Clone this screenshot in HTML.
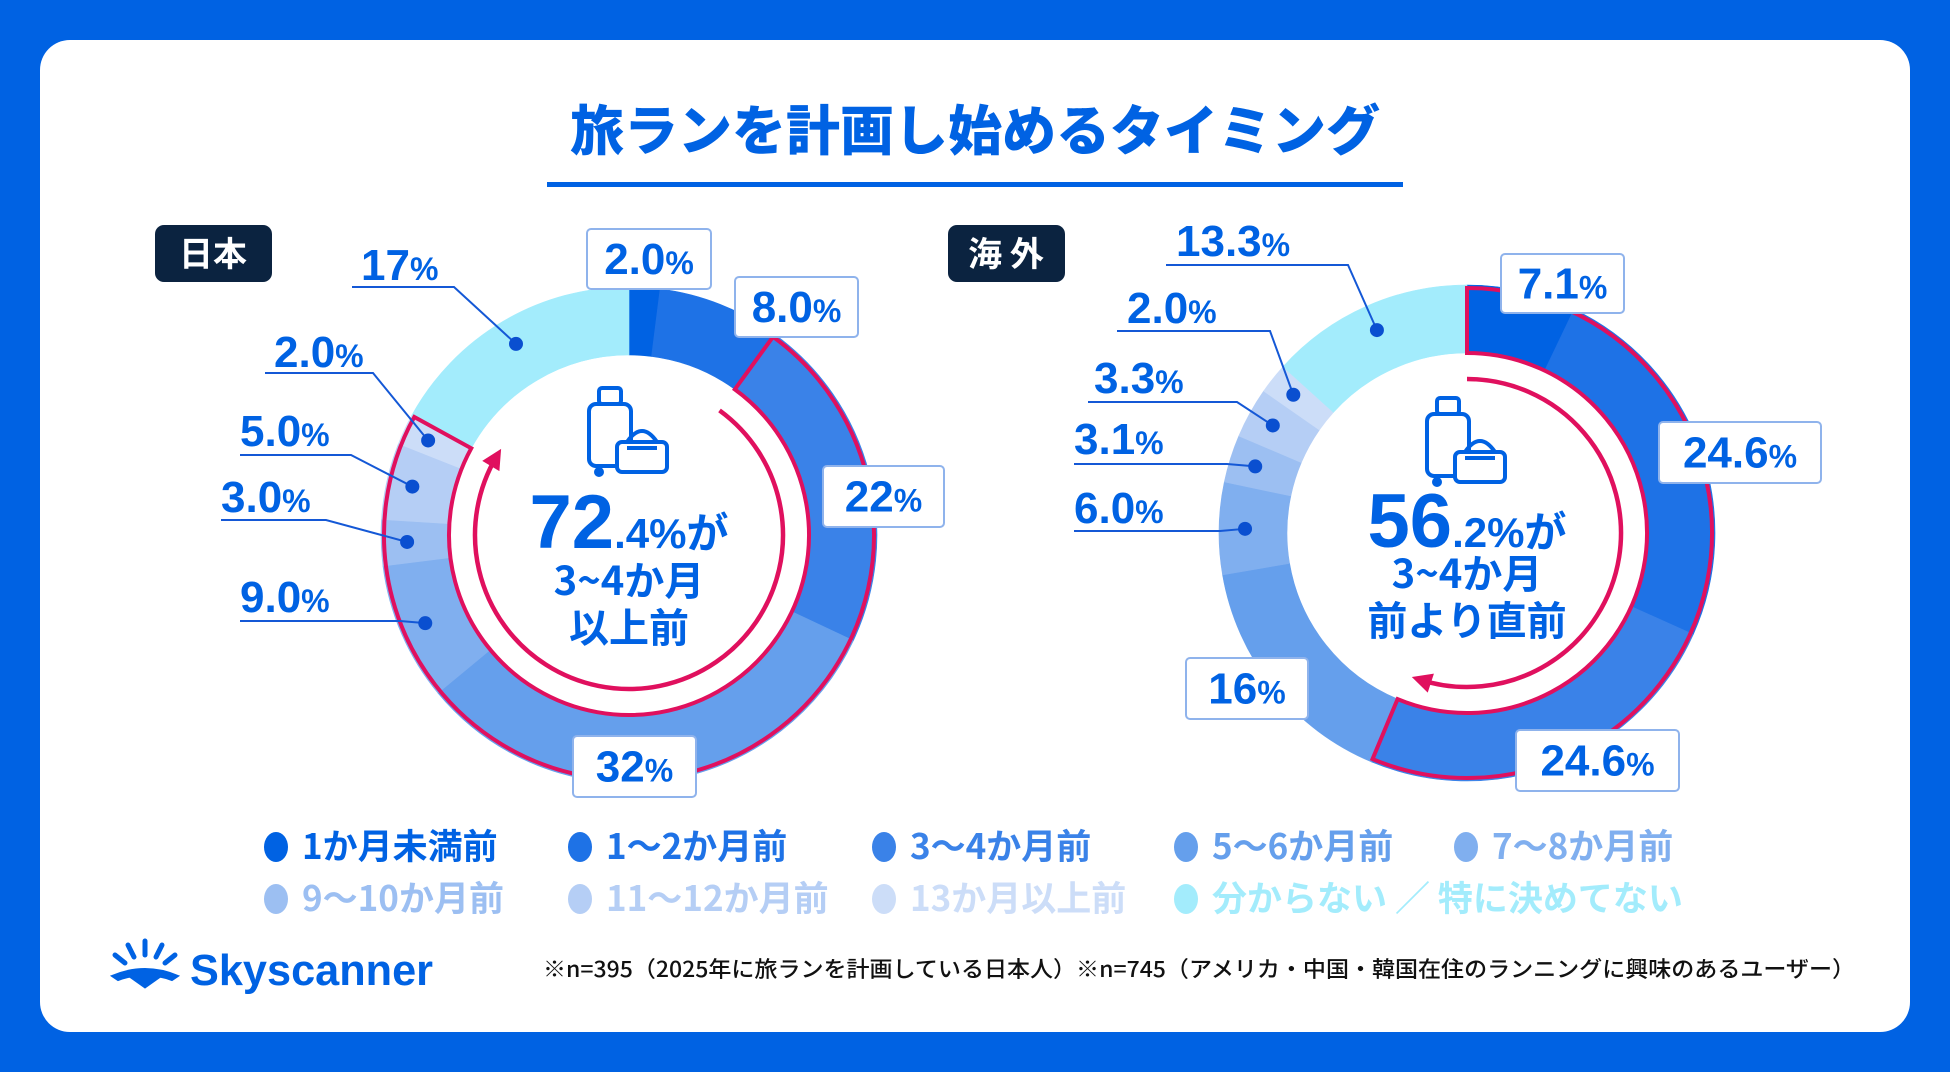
<!DOCTYPE html>
<html><head><meta charset="utf-8">
<style>
html,body{margin:0;padding:0;width:1950px;height:1072px;overflow:hidden;background:#0062E3;}
svg{display:block;}
text{font-family:"Liberation Sans","Noto Sans CJK JP",sans-serif;font-weight:700;}
</style></head>
<body>
<svg id="chart" width="1950" height="1072" viewBox="0 0 1950 1072" xmlns="http://www.w3.org/2000/svg">
  <rect x="0" y="0" width="1950" height="1072" fill="#0062E3"/>
  <rect x="40" y="40" width="1870" height="992" rx="30" fill="#ffffff"/>
  <text x="975" y="150" text-anchor="middle" font-size="54" fill="#0062E3" style="font-family:'Noto Sans CJK JP',sans-serif;font-weight:900">旅ランを計画し始めるタイミング</text>
  <rect x="547" y="182" width="856" height="5" fill="#0062E3"/>

  <g>
    <rect x="155" y="225" width="117" height="57" rx="9" fill="#0B2340"/>
    <text x="213" y="266" text-anchor="middle" font-size="34" fill="#fff" style="font-family:'Noto Sans CJK JP',sans-serif">日本</text>
  </g>
  <g>
    <rect x="948" y="225" width="117" height="57" rx="9" fill="#0B2340"/>
    <text x="1006" y="266" text-anchor="middle" font-size="34" fill="#fff" style="font-family:'Noto Sans CJK JP',sans-serif">海 外</text>
  </g>

  <g id="donuts"></g>
  <g id="labels"></g>
  <g id="centers"></g>
  <g id="legend"></g>

  <g>
    <g fill="#0062E3" stroke="#0062E3" stroke-linecap="round">
      <line x1="145" y1="955" x2="145" y2="941" stroke-width="5"/>
      <line x1="134" y1="957" x2="128" y2="945" stroke-width="5"/>
      <line x1="156" y1="957" x2="162" y2="945" stroke-width="5"/>
      <line x1="125" y1="963" x2="115" y2="955" stroke-width="5"/>
      <line x1="165" y1="963" x2="175" y2="955" stroke-width="5"/>
      <path d="M112 976 Q145 962 178 976 L172 980 Q145 970 118 980 Z" stroke-width="2"/>
      <path d="M128 976 Q145 968 162 976 L145 988 Z" stroke-width="1"/>
    </g>
    <text x="190" y="985" font-size="44" fill="#0062E3" textLength="243" lengthAdjust="spacingAndGlyphs">Skyscanner</text>
  </g>
  <text x="543" y="977" font-size="22" fill="#111" style="font-family:'Noto Sans CJK JP',sans-serif;font-weight:500" textLength="1312" lengthAdjust="spacingAndGlyphs">※n=395（2025年に旅ランを計画している日本人）※n=745（アメリカ・中国・韓国在住のランニングに興味のあるユーザー）</text>
</svg>
<script>
const categories = ["1か月未満前","1〜2か月前","3〜4か月前","5〜6か月前","7〜8か月前","9〜10か月前","11〜12か月前","13か月以上前","分からない ／ 特に決めてない"];
const japanValues = [2.0, 8.0, 22, 32, 9.0, 3.0, 5.0, 2.0, 17];
const overseasValues = [7.1, 24.6, 24.6, 16, 6.0, 3.1, 3.3, 2.0, 13.3];
const japanLabels = ["2.0","8.0","22","32","9.0","3.0","5.0","2.0","17"];
const overseasLabels = ["7.1","24.6","24.6","16","6.0","3.1","3.3","2.0","13.3"];
const japanHighlight = [2, 7];
const overseasHighlight = [0, 2];
const japanCenterMain = "72", japanCenterDec = ".4%が", japanCenterL2 = "3~4か月", japanCenterL3 = "以上前";
const overseasCenterMain = "56", overseasCenterDec = ".2%が", overseasCenterL2 = "3~4か月", overseasCenterL3 = "前より直前";

const colors = ["#0062E3","#1E72E6","#3A82E8","#659FEC","#80AFEF","#9CBFF2","#B5CEF5","#CCDDF8","#A3ECFC"];
const NS = "http://www.w3.org/2000/svg";
const R_OUT = 248, R_IN = 180, R_ARROW = 154;
function mk(tag, attrs, parent){ const e=document.createElementNS(NS,tag); for(const k in attrs) e.setAttribute(k,attrs[k]); if(parent) parent.appendChild(e); return e; }
function pt(cx,cy,r,deg){ const a=(deg-90)*Math.PI/180; return [cx+r*Math.cos(a), cy+r*Math.sin(a)]; }
function angleScale(values){ const tot=values.reduce((a,b)=>a+b,0); return v=>v/tot*360; }
function sectorPath(cx,cy,r0,r1,a0,a1){
  const large=(a1-a0)>180?1:0;
  const p1=pt(cx,cy,r1,a0),p2=pt(cx,cy,r1,a1),p3=pt(cx,cy,r0,a1),p4=pt(cx,cy,r0,a0);
  return `M${p1[0]} ${p1[1]} A${r1} ${r1} 0 ${large} 1 ${p2[0]} ${p2[1]} L${p3[0]} ${p3[1]} A${r0} ${r0} 0 ${large} 0 ${p4[0]} ${p4[1]} Z`;
}
function drawDonut(name,cx,cy,values,hl){
  const g=mk("g",{},document.getElementById("donuts"));
  
  
  const sc=angleScale(values); let acc=0; const bounds=[];
  values.forEach((v,i)=>{
    const a0=acc, a1=acc+sc(v); bounds.push([a0,a1]); acc=a1;
    const p=mk("path",{d:sectorPath(cx,cy,R_IN,R_OUT,a0,a1),fill:colors[i],stroke:colors[i],"stroke-width":0.6},g);
    
    
  });
  const ha0=bounds[hl[0]][0], ha1=bounds[hl[1]][1];
  const o=mk("path",{d:sectorPath(cx,cy,R_IN,R_OUT-3,ha0,ha1),fill:"none",stroke:"#E0105E","stroke-width":4,"stroke-linejoin":"miter"},g);
  
  
  return {bounds,ha0,ha1};
}
function drawArrow(name,cx,cy,a0,a1){
  const g=mk("g",{},document.getElementById("donuts"));
  
  
  const p1=pt(cx,cy,R_ARROW,a0), p2=pt(cx,cy,R_ARROW,a1);
  const large=(a1-a0)>180?1:0;
  mk("path",{d:`M${p1[0]} ${p1[1]} A${R_ARROW} ${R_ARROW} 0 ${large} 1 ${p2[0]} ${p2[1]}`,fill:"none",stroke:"#E0105E","stroke-width":4.5},g);
  const t=(a1)*Math.PI/180; const dx=Math.cos(t), dy=Math.sin(t);
  const tip=[p2[0]+dx*8,p2[1]+dy*8];
  const nx=-dy, ny=dx;
  const b=[p2[0]-dx*12,p2[1]-dy*12];
  mk("path",{d:`M${tip[0]} ${tip[1]} L${b[0]+nx*10} ${b[1]+ny*10} L${b[0]-nx*10} ${b[1]-ny*10} Z`,fill:"#E0105E"},g);
}
const jp = drawDonut("japan",629,535,japanValues,japanHighlight);
drawArrow("japan",629,535,36,301);
const os = drawDonut("overseas",1467,533,overseasValues,overseasHighlight);
drawArrow("overseas",1467,533,0,198);

const L=document.getElementById("labels");
function pctText(parent,x,y,num,anchor){
  const t=mk("text",{x:x,y:y,"font-size":44,fill:"#0062E3","text-anchor":anchor||"start"},parent);
  t.textContent=num;
  const s=mk("tspan",{"font-size":32},t); s.textContent="%";
  return t;
}
function boxLabel(name,x,y,w,h,num){
  const g=mk("g",{},L);
  
  
  mk("rect",{x:x,y:y,width:w,height:h,rx:4,fill:"#fff",stroke:"#8FB3EC","stroke-width":2},g);
  pctText(g,x+w/2,y+h/2+15,num,"middle");
}
function leaderLabel(name,tx,ty,lineY,lx0,lx1,seg,bounds,cx,cy,num){
  const g=mk("g",{},L);
  
  
  pctText(g,tx,ty,num);
  const mid=(bounds[seg][0]+bounds[seg][1])/2;
  const d=pt(cx,cy,(R_IN+R_OUT)/2+8,mid);
  mk("path",{d:`M${lx0} ${lineY} L${lx1} ${lineY} L${d[0]} ${d[1]}`,fill:"none",stroke:"#1458D6","stroke-width":2},g);
  mk("circle",{cx:d[0],cy:d[1],r:7,fill:"#0A4FD0"},g);
}
boxLabel("japan-label-1",587,229,124,60,japanLabels[0]);
boxLabel("japan-label-2",735,277,123,60,japanLabels[1]);
boxLabel("japan-label-3",823,466,121,61,japanLabels[2]);
boxLabel("japan-label-4",573,736,123,61,japanLabels[3]);
leaderLabel("japan-label-9",361,280,287,352,454,8,jp.bounds,629,535,japanLabels[8]);
leaderLabel("japan-label-8",274,367,373,265,373,7,jp.bounds,629,535,japanLabels[7]);
leaderLabel("japan-label-7",240,446,455,240,351,6,jp.bounds,629,535,japanLabels[6]);
leaderLabel("japan-label-6",221,512,520,221,326,5,jp.bounds,629,535,japanLabels[5]);
leaderLabel("japan-label-5",240,612,621,240,400,4,jp.bounds,629,535,japanLabels[4]);

boxLabel("overseas-label-1",1501,254,123,59,overseasLabels[0]);
boxLabel("overseas-label-2",1659,422,162,61,overseasLabels[1]);
boxLabel("overseas-label-3",1516,730,163,61,overseasLabels[2]);
boxLabel("overseas-label-4",1186,658,122,61,overseasLabels[3]);
leaderLabel("overseas-label-9",1176,256,265,1166,1348,8,os.bounds,1467,533,overseasLabels[8]);
leaderLabel("overseas-label-8",1127,323,331,1117,1270,7,os.bounds,1467,533,overseasLabels[7]);
leaderLabel("overseas-label-7",1094,393,402,1088,1237,6,os.bounds,1467,533,overseasLabels[6]);
leaderLabel("overseas-label-6",1074,454,464,1074,1227,5,os.bounds,1467,533,overseasLabels[5]);
leaderLabel("overseas-label-5",1074,523,531,1074,1220,4,os.bounds,1467,533,overseasLabels[4]);

const C=document.getElementById("centers");
function icon(parent,cx,cy){
  const g=mk("g",{fill:"none",stroke:"#0062E3","stroke-width":4,"stroke-linejoin":"round"},parent);
  mk("rect",{x:cx-32,y:cy-28,width:42,height:62,rx:7},g);
  mk("rect",{x:cx-22,y:cy-44,width:22,height:16,rx:3},g);
  mk("circle",{cx:cx-22,cy:cy+40,r:3,fill:"#0062E3"},g);
  mk("rect",{x:cx-4,y:cy+10,width:50,height:30,rx:5,fill:"#fff"},g);
  mk("path",{d:`M${cx+6} ${cy+10} Q${cx+21} ${cy-12} ${cx+36} ${cy+10}`},g);
  mk("line",{x1:cx+6,y1:cy+16,x2:cx+36,y2:cy+16},g);
}
function centerText(name,cx,main,dec,l2,l3,y1,y2,y3,iy){
  const g=mk("g",{},C);
  
  
  icon(g,cx-8,iy);
  const t=mk("text",{x:cx,y:y1,"text-anchor":"middle",fill:"#0062E3","font-size":76},g);
  t.textContent=main;
  const s=mk("tspan",{"font-size":42},t); s.textContent=dec;
  const t2=mk("text",{x:cx,y:y2,"text-anchor":"middle",fill:"#0062E3","font-size":40,style:"font-family:'Noto Sans CJK JP',sans-serif"},g); t2.textContent=l2;
  const t3=mk("text",{x:cx,y:y3,"text-anchor":"middle",fill:"#0062E3","font-size":40,style:"font-family:'Noto Sans CJK JP',sans-serif"},g); t3.textContent=l3;
}
centerText("japan",629,japanCenterMain,japanCenterDec,japanCenterL2,japanCenterL3,548,595,642,432);
centerText("overseas",1467,overseasCenterMain,overseasCenterDec,overseasCenterL2,overseasCenterL3,547,588,635,442);

const G=document.getElementById("legend");
const legX=[276,580,884,1186,1466];
categories.forEach((c,i)=>{
  const row=i<5?0:1, col=i<5?i:i-5;
  const y=row===0?847:899;
  const g=mk("g",{},G);
  
  
  mk("ellipse",{cx:legX[col],cy:y,rx:12,ry:15,fill:colors[i]},g);
  const t=mk("text",{x:legX[col]+26,y:y+12,"font-size":35,fill:colors[i],style:"font-family:'Noto Sans CJK JP',sans-serif;font-weight:700"},g);
  t.textContent=c;
});
</script>
</body></html>
